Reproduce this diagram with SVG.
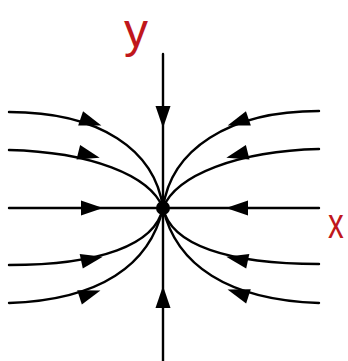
<svg xmlns="http://www.w3.org/2000/svg" width="348" height="361" viewBox="0 0 348 361">
  <style>
    .traj { fill: none; stroke: #000; stroke-width: 2.4; stroke-linecap: round; }
    .head { fill: #000; }
    .lbl { font-family: "Liberation Sans", "DejaVu Sans", sans-serif; fill: #c0171c; }
  </style>
  <defs>
    <polygon id="ah" points="11,0 -11,-7.5 -11,7.5"/>
  </defs>
  <rect width="348" height="361" fill="#fff"/>
  <g id="connectors">
    <line class="traj" x1="163" y1="54" x2="163" y2="361"/>
    <line class="traj" x1="9" y1="208" x2="319" y2="208"/>
    <path class="traj" d="M9,112 C100,112 155,150 163,208"/>
    <path class="traj" d="M9,150 C90,152 150,175 163,208"/>
    <path class="traj" d="M319,111 C228,111 171,150 163,208"/>
    <path class="traj" d="M319,149 C238,151 176,175 163,208"/>
    <path class="traj" d="M9,265 C100,265 155,245 163,208"/>
    <path class="traj" d="M9,303 C100,300 150,265 163,208"/>
    <path class="traj" d="M319,264 C228,264 171,245 163,208"/>
    <path class="traj" d="M319,303 C228,300 176,265 163,208"/>
    <g class="head">
      <use href="#ah" transform="translate(163,117) rotate(90)"/>
      <use href="#ah" transform="translate(163,297) rotate(-90)"/>
      <use href="#ah" transform="translate(92,208)"/>
      <use href="#ah" transform="translate(237,208) rotate(180)"/>
      <use href="#ah" transform="translate(91,122) rotate(19)"/>
      <use href="#ah" transform="translate(89,155) rotate(14)"/>
      <use href="#ah" transform="translate(238,122) rotate(161)"/>
      <use href="#ah" transform="translate(237,155) rotate(166)"/>
      <use href="#ah" transform="translate(92,259) rotate(-12)"/>
      <use href="#ah" transform="translate(90,294) rotate(-18)"/>
      <use href="#ah" transform="translate(237,259) rotate(192)"/>
      <use href="#ah" transform="translate(238,293) rotate(198)"/>
    </g>
  </g>
  <g id="origin">
    <circle cx="163" cy="208" r="7" fill="#000"/>
  </g>
  <g id="label-y">
    <text class="lbl" x="124" y="47" font-size="48">y</text>
  </g>
  <g id="label-x">
    <text class="lbl" x="328" y="238" font-size="42" transform="translate(328,0) scale(0.75,1) translate(-328,0)">x</text>
  </g>
</svg>
